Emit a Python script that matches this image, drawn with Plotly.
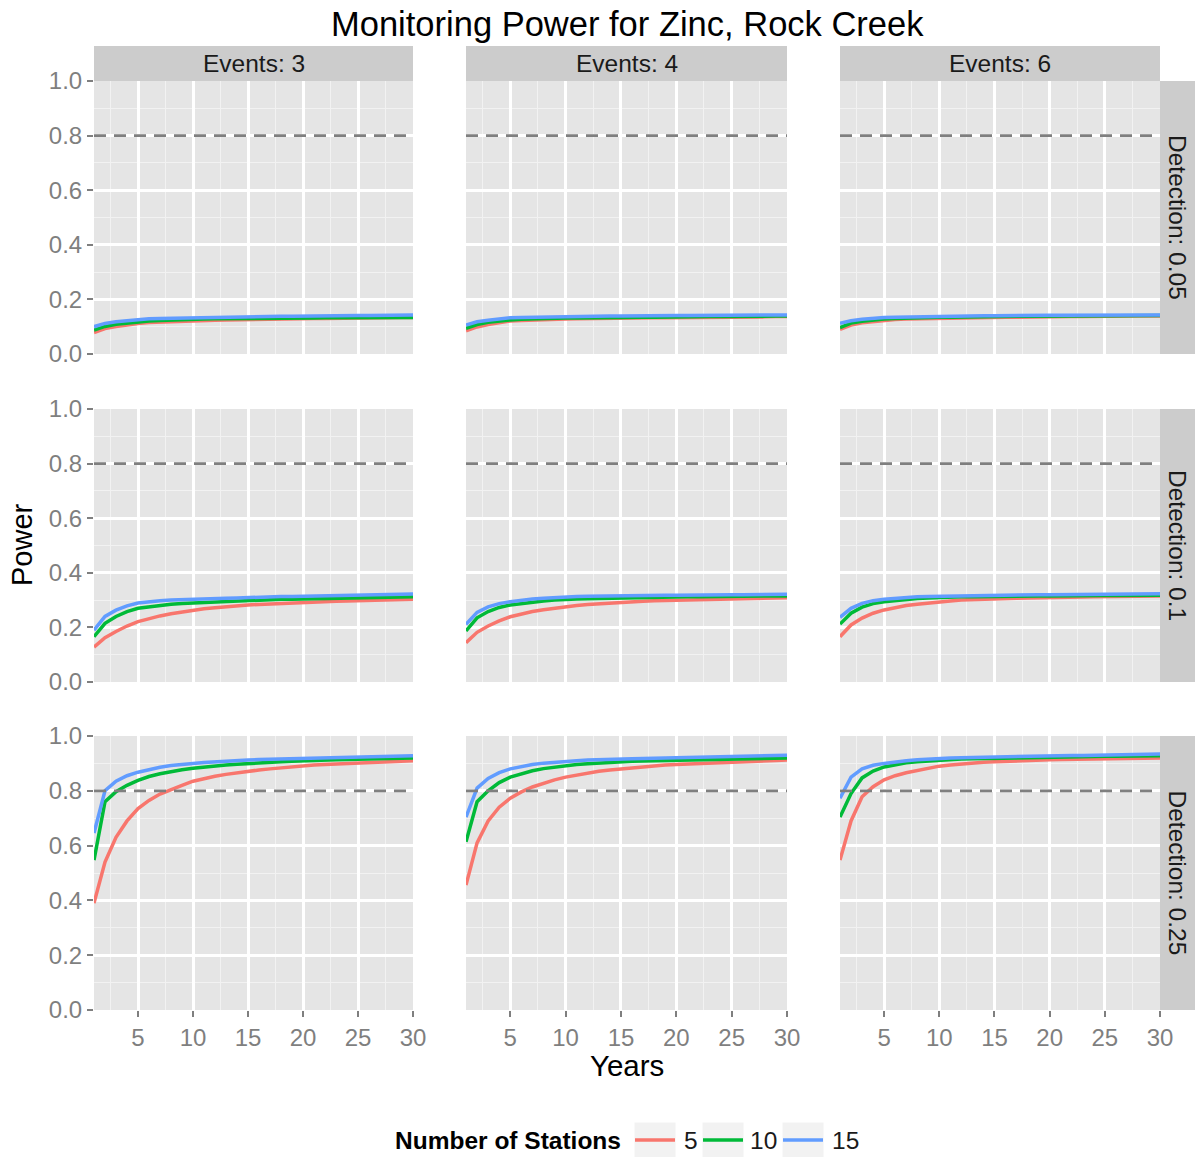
import plotly.graph_objects as go

years = list(range(1, 31))
events = ["Events: 3", "Events: 4", "Events: 6"]
detections = ["Detection: 0.05", "Detection: 0.1", "Detection: 0.25"]
stations = ["5", "10", "15"]
colors = ["#F8766D", "#00BA38", "#619CFF"]
threshold = 0.8

# Detection 0.05
e3_d005_s5 = [0.078, 0.093, 0.101, 0.107, 0.112, 0.115, 0.117, 0.119, 0.121, 0.122, 0.123, 0.124, 0.125, 0.126, 0.127, 0.127, 0.128, 0.128, 0.129, 0.129, 0.13, 0.13, 0.131, 0.131, 0.132, 0.132, 0.133, 0.133, 0.134, 0.134]
e3_d005_s10 = [0.088, 0.101, 0.109, 0.114, 0.118, 0.121, 0.123, 0.125, 0.126, 0.127, 0.128, 0.129, 0.129, 0.13, 0.13, 0.131, 0.131, 0.131, 0.132, 0.132, 0.132, 0.133, 0.133, 0.133, 0.133, 0.134, 0.134, 0.134, 0.134, 0.134]
e3_d005_s15 = [0.10, 0.112, 0.118, 0.122, 0.127, 0.129, 0.13, 0.131, 0.132, 0.133, 0.134, 0.135, 0.135, 0.136, 0.136, 0.137, 0.137, 0.138, 0.138, 0.139, 0.139, 0.14, 0.14, 0.14, 0.141, 0.141, 0.142, 0.142, 0.143, 0.143]
e4_d005_s5 = [0.085, 0.099, 0.108, 0.115, 0.121, 0.123, 0.125, 0.126, 0.127, 0.128, 0.129, 0.13, 0.13, 0.131, 0.131, 0.132, 0.132, 0.133, 0.133, 0.133, 0.134, 0.134, 0.135, 0.135, 0.135, 0.136, 0.136, 0.136, 0.137, 0.137]
e4_d005_s10 = [0.094, 0.108, 0.116, 0.121, 0.125, 0.127, 0.129, 0.13, 0.131, 0.132, 0.132, 0.133, 0.133, 0.134, 0.134, 0.135, 0.135, 0.135, 0.136, 0.136, 0.136, 0.137, 0.137, 0.137, 0.138, 0.138, 0.138, 0.139, 0.139, 0.139]
e4_d005_s15 = [0.106, 0.118, 0.124, 0.129, 0.133, 0.134, 0.135, 0.136, 0.137, 0.137, 0.138, 0.138, 0.139, 0.139, 0.139, 0.14, 0.14, 0.14, 0.141, 0.141, 0.141, 0.141, 0.142, 0.142, 0.142, 0.142, 0.143, 0.143, 0.143, 0.143]
e6_d005_s5 = [0.09, 0.106, 0.114, 0.119, 0.123, 0.126, 0.128, 0.129, 0.13, 0.131, 0.132, 0.133, 0.133, 0.134, 0.134, 0.135, 0.135, 0.136, 0.136, 0.136, 0.137, 0.137, 0.137, 0.138, 0.138, 0.138, 0.138, 0.139, 0.139, 0.139]
e6_d005_s10 = [0.097, 0.113, 0.12, 0.125, 0.128, 0.13, 0.132, 0.133, 0.134, 0.135, 0.135, 0.136, 0.136, 0.137, 0.137, 0.137, 0.138, 0.138, 0.138, 0.139, 0.139, 0.139, 0.14, 0.14, 0.14, 0.14, 0.141, 0.141, 0.141, 0.141]
e6_d005_s15 = [0.112, 0.122, 0.127, 0.131, 0.134, 0.135, 0.136, 0.137, 0.138, 0.138, 0.139, 0.139, 0.14, 0.14, 0.14, 0.141, 0.141, 0.141, 0.141, 0.142, 0.142, 0.142, 0.142, 0.142, 0.143, 0.143, 0.143, 0.143, 0.143, 0.143]

# Detection 0.1
e3_d01_s5 = [0.128, 0.162, 0.185, 0.205, 0.221, 0.232, 0.242, 0.25, 0.257, 0.264, 0.268, 0.272, 0.276, 0.279, 0.282, 0.284, 0.286, 0.289, 0.291, 0.293, 0.294, 0.295, 0.296, 0.297, 0.298, 0.299, 0.30, 0.301, 0.302, 0.303]
e3_d01_s10 = [0.166, 0.215, 0.24, 0.258, 0.27, 0.276, 0.281, 0.285, 0.288, 0.29, 0.292, 0.294, 0.296, 0.298, 0.30, 0.301, 0.302, 0.303, 0.303, 0.304, 0.305, 0.306, 0.307, 0.308, 0.308, 0.309, 0.31, 0.31, 0.311, 0.312]
e3_d01_s15 = [0.19, 0.24, 0.263, 0.279, 0.289, 0.294, 0.298, 0.30, 0.302, 0.304, 0.305, 0.306, 0.307, 0.308, 0.31, 0.311, 0.312, 0.313, 0.313, 0.314, 0.315, 0.316, 0.317, 0.317, 0.318, 0.319, 0.32, 0.32, 0.321, 0.322]
e4_d01_s5 = [0.144, 0.182, 0.205, 0.224, 0.239, 0.25, 0.258, 0.265, 0.271, 0.276, 0.28, 0.284, 0.287, 0.29, 0.292, 0.294, 0.296, 0.298, 0.299, 0.30, 0.301, 0.302, 0.303, 0.304, 0.305, 0.306, 0.307, 0.307, 0.308, 0.309]
e4_d01_s10 = [0.187, 0.235, 0.258, 0.273, 0.282, 0.288, 0.293, 0.297, 0.30, 0.303, 0.304, 0.305, 0.306, 0.307, 0.308, 0.309, 0.31, 0.31, 0.311, 0.311, 0.312, 0.312, 0.313, 0.313, 0.314, 0.314, 0.314, 0.315, 0.315, 0.315]
e4_d01_s15 = [0.211, 0.255, 0.275, 0.287, 0.294, 0.30, 0.304, 0.307, 0.31, 0.312, 0.313, 0.314, 0.315, 0.316, 0.316, 0.317, 0.317, 0.318, 0.318, 0.318, 0.319, 0.319, 0.319, 0.32, 0.32, 0.32, 0.32, 0.321, 0.321, 0.321]
e6_d01_s5 = [0.166, 0.209, 0.234, 0.252, 0.264, 0.273, 0.28, 0.285, 0.29, 0.294, 0.297, 0.30, 0.302, 0.304, 0.305, 0.306, 0.307, 0.308, 0.308, 0.309, 0.31, 0.311, 0.311, 0.312, 0.312, 0.313, 0.313, 0.314, 0.314, 0.315]
e6_d01_s10 = [0.212, 0.252, 0.274, 0.287, 0.294, 0.299, 0.303, 0.306, 0.308, 0.31, 0.311, 0.312, 0.312, 0.313, 0.313, 0.314, 0.314, 0.315, 0.315, 0.315, 0.316, 0.316, 0.316, 0.317, 0.317, 0.317, 0.317, 0.318, 0.318, 0.318]
e6_d01_s15 = [0.237, 0.27, 0.288, 0.298, 0.303, 0.307, 0.31, 0.312, 0.313, 0.314, 0.315, 0.316, 0.317, 0.317, 0.318, 0.318, 0.319, 0.319, 0.32, 0.32, 0.32, 0.321, 0.321, 0.321, 0.322, 0.322, 0.322, 0.322, 0.323, 0.323]

# Detection 0.25
e3_d025_s5 = [0.39, 0.54, 0.63, 0.69, 0.735, 0.765, 0.788, 0.805, 0.82, 0.835, 0.845, 0.853, 0.86, 0.866, 0.872, 0.876, 0.88, 0.884, 0.888, 0.891, 0.894, 0.896, 0.898, 0.90, 0.902, 0.904, 0.905, 0.907, 0.908, 0.91]
e3_d025_s10 = [0.547, 0.76, 0.797, 0.82, 0.838, 0.852, 0.862, 0.87, 0.877, 0.882, 0.887, 0.891, 0.894, 0.897, 0.90, 0.902, 0.904, 0.906, 0.908, 0.91, 0.911, 0.912, 0.913, 0.914, 0.915, 0.916, 0.917, 0.918, 0.919, 0.92]
e3_d025_s15 = [0.646, 0.80, 0.835, 0.855, 0.868, 0.878, 0.886, 0.892, 0.897, 0.90, 0.903, 0.906, 0.908, 0.91, 0.912, 0.914, 0.915, 0.916, 0.917, 0.918, 0.919, 0.92, 0.921, 0.922, 0.923, 0.924, 0.925, 0.926, 0.927, 0.928]
e4_d025_s5 = [0.456, 0.61, 0.69, 0.74, 0.773, 0.796, 0.814, 0.828, 0.84, 0.85, 0.858, 0.865, 0.871, 0.876, 0.88, 0.884, 0.888, 0.891, 0.894, 0.896, 0.898, 0.90, 0.902, 0.904, 0.905, 0.907, 0.908, 0.909, 0.911, 0.912]
e4_d025_s10 = [0.614, 0.76, 0.80, 0.83, 0.85, 0.863, 0.873, 0.881, 0.887, 0.892, 0.896, 0.899, 0.902, 0.904, 0.906, 0.908, 0.909, 0.91, 0.911, 0.912, 0.913, 0.914, 0.915, 0.916, 0.916, 0.917, 0.918, 0.919, 0.919, 0.92]
e4_d025_s15 = [0.704, 0.81, 0.845, 0.866, 0.88, 0.889, 0.896, 0.901, 0.905, 0.908, 0.91, 0.912, 0.914, 0.915, 0.916, 0.917, 0.918, 0.919, 0.92, 0.921, 0.922, 0.923, 0.924, 0.925, 0.926, 0.927, 0.928, 0.928, 0.929, 0.93]
e6_d025_s5 = [0.547, 0.69, 0.778, 0.815, 0.84, 0.855, 0.866, 0.875, 0.883, 0.89, 0.894, 0.898, 0.901, 0.904, 0.906, 0.908, 0.91, 0.911, 0.912, 0.913, 0.914, 0.915, 0.916, 0.916, 0.917, 0.918, 0.918, 0.919, 0.919, 0.92]
e6_d025_s10 = [0.704, 0.79, 0.847, 0.872, 0.887, 0.896, 0.902, 0.906, 0.909, 0.912, 0.914, 0.916, 0.917, 0.918, 0.919, 0.92, 0.921, 0.922, 0.922, 0.923, 0.923, 0.924, 0.925, 0.925, 0.926, 0.926, 0.927, 0.927, 0.928, 0.928]
e6_d025_s15 = [0.773, 0.85, 0.88, 0.893, 0.90, 0.906, 0.91, 0.913, 0.916, 0.918, 0.92, 0.921, 0.922, 0.923, 0.924, 0.925, 0.926, 0.926, 0.927, 0.927, 0.928, 0.929, 0.929, 0.93, 0.931, 0.931, 0.932, 0.933, 0.933, 0.934]

grid_data = [
    [[e3_d005_s5, e3_d005_s10, e3_d005_s15], [e4_d005_s5, e4_d005_s10, e4_d005_s15], [e6_d005_s5, e6_d005_s10, e6_d005_s15]],
    [[e3_d01_s5, e3_d01_s10, e3_d01_s15], [e4_d01_s5, e4_d01_s10, e4_d01_s15], [e6_d01_s5, e6_d01_s10, e6_d01_s15]],
    [[e3_d025_s5, e3_d025_s10, e3_d025_s15], [e4_d025_s5, e4_d025_s10, e4_d025_s15], [e6_d025_s5, e6_d025_s10, e6_d025_s15]],
]

W, H = 1195, 1157
FONT = "Liberation Sans, Arial, sans-serif"
col_px = [(94, 413), (466, 787), (840, 1160)]
row_px = [(81, 354), (409, 682), (736, 1010)]
strip_top = 46
strip_right = 1195

def fx(px):
    return px / W

def fy(py):
    return 1 - py / H

fig = go.Figure()
layout = dict(
    width=W, height=H,
    margin=dict(l=0, r=0, t=0, b=0, autoexpand=False),
    paper_bgcolor="white", plot_bgcolor="#E5E5E5",
    font=dict(family=FONT, size=24, color="#1A1A1A"),
    showlegend=False,
)
shapes = []
annotations = []

for r in range(3):
    for c in range(3):
        idx = r * 3 + c + 1
        sx = "" if idx == 1 else str(idx)
        xname, yname = "x" + sx, "y" + sx
        for k in range(3):
            fig.add_trace(go.Scatter(
                x=years, y=grid_data[r][c][k], mode="lines",
                line=dict(color=colors[k], width=3.5),
                name=stations[k], legendgroup=stations[k],
                showlegend=False, xaxis=xname, yaxis=yname,
            ))
        bottom = (r == 2)
        left = (c == 0)
        layout["xaxis" + sx] = dict(
            domain=[fx(col_px[c][0]), fx(col_px[c][1])], anchor=yname,
            range=[1, 30], tickmode="array", tickvals=[5, 10, 15, 20, 25, 30],
            showticklabels=bottom, ticks="outside" if bottom else "",
            ticklen=6, tickwidth=2, tickcolor="#7F7F7F",
            tickfont=dict(size=24, color="#7F7F7F", family=FONT),
            showgrid=True, gridcolor="white", gridwidth=2.5,
            minor=dict(tickvals=[2.5, 7.5, 12.5, 17.5, 22.5, 27.5], showgrid=True,
                       gridcolor="#F2F2F2", gridwidth=1, ticks=""),
            zeroline=False, showline=False, fixedrange=True, automargin=False,
        )
        layout["yaxis" + sx] = dict(
            domain=[fy(row_px[r][1]), fy(row_px[r][0])], anchor=xname,
            range=[0, 1], tickmode="array", tickvals=[0, 0.2, 0.4, 0.6, 0.8, 1.0],
            ticktext=["0.0", "0.2", "0.4", "0.6", "0.8", "1.0"],
            showticklabels=left, ticks="outside" if left else "",
            ticklen=6, tickwidth=2, tickcolor="#7F7F7F",
            tickfont=dict(size=24, color="#7F7F7F", family=FONT),
            showgrid=True, gridcolor="white", gridwidth=2.5,
            minor=dict(tickvals=[0.1, 0.3, 0.5, 0.7, 0.9], showgrid=True,
                       gridcolor="#F2F2F2", gridwidth=1, ticks=""),
            zeroline=False, showline=False, fixedrange=True, automargin=False,
        )
        shapes.append(dict(
            type="line", xref=xname + " domain", yref=yname,
            x0=0, x1=1, y0=threshold, y1=threshold,
            line=dict(color="#7F7F7F", width=2.8, dash="12px,8px"), layer="above",
        ))

# column strips (top)
for c in range(3):
    shapes.append(dict(type="rect", xref="paper", yref="paper",
                       x0=fx(col_px[c][0]), x1=fx(col_px[c][1]),
                       y0=fy(row_px[0][0]), y1=fy(strip_top),
                       fillcolor="#CCCCCC", line=dict(width=0), layer="below"))
    annotations.append(dict(text=events[c], xref="paper", yref="paper",
                            x=fx((col_px[c][0] + col_px[c][1]) / 2),
                            y=fy((strip_top + row_px[0][0]) / 2),
                            xanchor="center", yanchor="middle", showarrow=False,
                            font=dict(size=24.5, color="#1A1A1A", family=FONT)))
# row strips (right)
for r in range(3):
    shapes.append(dict(type="rect", xref="paper", yref="paper",
                       x0=fx(col_px[2][1]), x1=fx(strip_right),
                       y0=fy(row_px[r][1]), y1=fy(row_px[r][0]),
                       fillcolor="#CCCCCC", line=dict(width=0), layer="below"))
    annotations.append(dict(text=detections[r], xref="paper", yref="paper",
                            x=fx((col_px[2][1] + strip_right) / 2),
                            y=fy((row_px[r][0] + row_px[r][1]) / 2),
                            xanchor="center", yanchor="middle", showarrow=False,
                            textangle=90,
                            font=dict(size=24.5, color="#1A1A1A", family=FONT)))

# titles
annotations.append(dict(text="Monitoring Power for Zinc, Rock Creek", xref="paper", yref="paper",
                        x=fx(627), y=fy(24), xanchor="center", yanchor="middle",
                        showarrow=False, font=dict(size=34.5, color="black", family=FONT)))
annotations.append(dict(text="Years", xref="paper", yref="paper",
                        x=fx(627), y=fy(1065), xanchor="center", yanchor="middle",
                        showarrow=False, font=dict(size=29.5, color="black", family=FONT)))
annotations.append(dict(text="Power", xref="paper", yref="paper",
                        x=fx(22), y=fy(545), xanchor="center", yanchor="middle",
                        textangle=-90, showarrow=False,
                        font=dict(size=29, color="black", family=FONT)))

# legend (drawn manually so it does not shrink the panels)
legend_y = 1140
annotations.append(dict(text="<b>Number of Stations</b>", xref="paper", yref="paper",
                        x=fx(623), y=fy(legend_y), xanchor="right", yanchor="middle",
                        showarrow=False, font=dict(size=24.5, color="black", family=FONT)))
key_centers = [655, 723, 803]
label_left = [682, 748, 830]
for k in range(3):
    kc = key_centers[k]
    shapes.append(dict(type="rect", xref="paper", yref="paper",
                       x0=fx(kc - 21), x1=fx(kc + 21),
                       y0=fy(legend_y + 18), y1=fy(legend_y - 18),
                       fillcolor="#F2F2F2", line=dict(color="white", width=1), layer="below"))
    shapes.append(dict(type="line", xref="paper", yref="paper",
                       x0=fx(kc - 20), x1=fx(kc + 20),
                       y0=fy(legend_y), y1=fy(legend_y),
                       line=dict(color=colors[k], width=3.5)))
    annotations.append(dict(text=stations[k], xref="paper", yref="paper",
                            x=fx(label_left[k]), y=fy(legend_y), xanchor="left", yanchor="middle",
                            showarrow=False, font=dict(size=24.5, color="#1A1A1A", family=FONT)))

layout["shapes"] = shapes
layout["annotations"] = annotations
fig.update_layout(**layout)
fig.write_html("out.html")
